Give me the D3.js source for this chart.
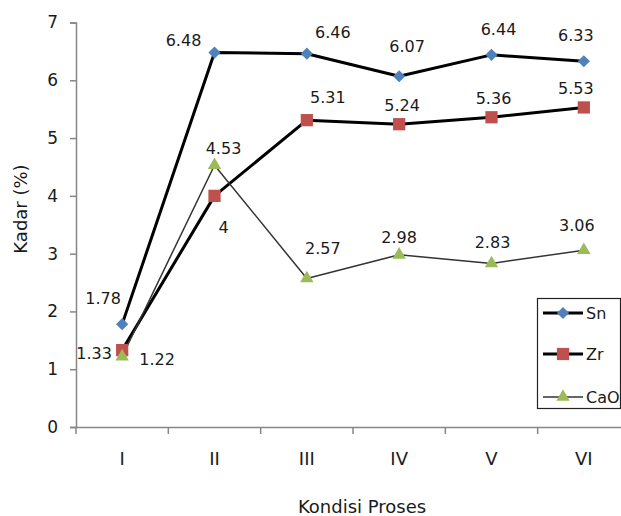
<!DOCTYPE html>
<html><head><meta charset="utf-8">
<script src="https://cdn.jsdelivr.net/npm/d3@7"></script>
<style>body{margin:0;background:#fff}svg{display:block}text{font-family:"DejaVu Sans",sans-serif;fill:#1a1a1a}</style>
</head><body><svg id="c" width="621" height="516"></svg>
<script>
const categories = ["I","II","III","IV","V","VI"];
const sn  = [1.78, 6.48, 6.46, 6.07, 6.44, 6.33];
const zr  = [1.33, 4, 5.31, 5.24, 5.36, 5.53];
const cao = [1.22, 4.53, 2.57, 2.98, 2.83, 3.06];
const yTicks = [0,1,2,3,4,5,6,7];
const seriesNames = ["Sn","Zr","CaO"];
// label offsets (dx, dy) relative to point
const snOff  = [[-19,-26],[-31,-12],[26,-21],[8,-30],[7,-25],[-8,-26]];
const zrOff  = [[-28,3],[9,32],[21,-23],[3,-19],[2,-19],[-8,-19]];
const caoOff = [[35,3],[9,-17],[16,-30],[0,-17],[1,-21],[-7,-25]];

const svg = d3.select("#c");
const x = d3.scaleBand().domain(categories).range([76, 630]);
const y = d3.scaleLinear().domain([0,7]).range([427, 22.5]);
const cx = c => x(c) + x.bandwidth()/2;

// axes
const yAx = svg.append("g").attr("transform","translate(76,0)").call(d3.axisLeft(y).tickValues(yTicks).tickFormat(d3.format("d")).tickSize(6).tickPadding(12));
const xAx = svg.append("g").attr("transform","translate(0,427)").call(d3.axisBottom(x).tickSize(0).tickPadding(25));
[yAx,xAx].forEach(a=>{a.select(".domain").attr("stroke","#868686").attr("stroke-width",1.5);
  a.selectAll(".tick line").attr("stroke","#868686").attr("stroke-width",1.5);
  a.selectAll("text").attr("font-size",17).attr("fill","#1a1a1a");});
xAx.selectAll("text").attr("font-size",18);
// x tick marks at band boundaries
svg.append("g").selectAll("line").data(categories).join("line")
  .attr("x1",d=>x(d)).attr("x2",d=>x(d)).attr("y1",427).attr("y2",434)
  .attr("stroke","#868686").attr("stroke-width",1.5);

svg.append("text").attr("transform","translate(27,209) rotate(-90)").attr("text-anchor","middle")
  .attr("font-size",18).text("Kadar (%)");
svg.append("text").attr("x",362).attr("y",513).attr("text-anchor","middle").attr("font-size",18).text("Kondisi Proses");

const line = d3.line().x((d,i)=>cx(categories[i])).y(d=>y(d));
const series = [
  {name:"Sn", vals:sn, off:snOff, w:3, col:"#4f81bd", shape:d3.symbolSquare, size:74, rot:45, lc:"#000"},
  {name:"Zr", vals:zr, off:zrOff, w:3, col:"#c0504d", shape:d3.symbolSquare, size:150, rot:0, lc:"#000"},
  {name:"CaO", vals:cao, off:caoOff, w:1.5, col:"#9bbb59", shape:d3.symbolTriangle, size:78, rot:0, lc:"#333"}
];
series.forEach(s=>{
  svg.append("path").datum(s.vals).attr("d",line).attr("fill","none").attr("stroke",s.lc).attr("stroke-width",s.w).attr("stroke-linejoin","round");
});
series.forEach(s=>{
  svg.append("g").selectAll("path").data(s.vals).join("path")
    .attr("d",d3.symbol().type(s.shape).size(s.size))
    .attr("transform",(d,i)=>`translate(${cx(categories[i])},${y(d)}) rotate(${s.rot})`)
    .attr("fill",s.col);
});
series.forEach(s=>{
  svg.append("g").selectAll("text").data(s.vals).join("text")
    .attr("x",(d,i)=>cx(categories[i])+s.off[i][0])
    .attr("y",(d,i)=>y(d)+s.off[i][1])
    .attr("dy","0.35em").attr("text-anchor","middle").attr("font-size",16)
    .text(d=>d);
});

// legend
const lg = svg.append("g");
lg.append("rect").attr("x",537.5).attr("y",298.5).attr("width",83).attr("height",110)
  .attr("fill","#fff").attr("stroke","#222").attr("stroke-width",1.2);
const ly = [313,354,397];
series.forEach((s,i)=>{
  lg.append("line").attr("x1",543).attr("x2",583).attr("y1",ly[i]).attr("y2",ly[i]).attr("stroke",s.lc).attr("stroke-width",s.w);
  lg.append("path").attr("d",d3.symbol().type(s.shape).size(s.size)).attr("transform",`translate(563,${ly[i]}) rotate(${s.rot})`).attr("fill",s.col);
  lg.append("text").attr("x",586).attr("y",ly[i]).attr("dy","0.35em").attr("font-size",16).text(seriesNames[i]);
});
</script></body></html>
